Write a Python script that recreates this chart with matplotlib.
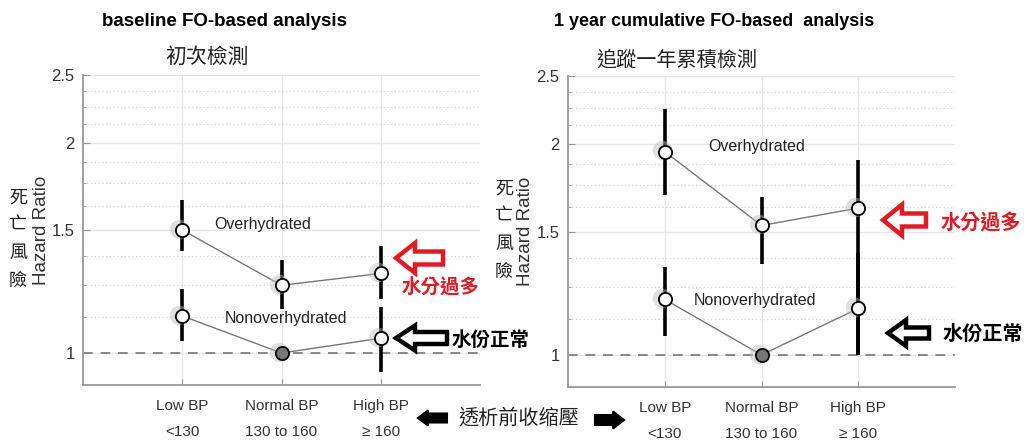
import numpy as np
import matplotlib
matplotlib.use("Agg")
import matplotlib.pyplot as plt
from matplotlib.patches import FancyArrow
from matplotlib.ticker import FixedLocator, NullFormatter

plt.rcParams['font.family'] = ['Liberation Sans', 'Noto Sans CJK TC', 'DejaVu Sans']
CJK = ['Noto Sans CJK TC', 'DejaVu Sans']

# categories (x ticks)
bp_labels = ["Low BP\n<130", "Normal BP\n130 to 160", "High BP\n\u2265 160"]
bp_pos = [1, 2, 3]

# baseline FO-based analysis
base_over = [1.50, 1.25, 1.30]
base_over_lo = [1.40, 1.155, 1.195]
base_over_hi = [1.655, 1.36, 1.425]
base_non = [1.13, 1.00, 1.05]
base_non_lo = [1.04, 1.00, 0.94]
base_non_hi = [1.235, 1.00, 1.165]

# 1 year cumulative FO-based analysis
cum_over = [1.95, 1.53, 1.62]
cum_over_lo = [1.69, 1.35, 1.00]
cum_over_hi = [2.24, 1.68, 1.90]
cum_non = [1.20, 1.00, 1.165]
cum_non_lo = [1.065, 1.00, 1.00]
cum_non_hi = [1.335, 1.00, 1.40]

yticks = [1, 1.5, 2, 2.5]
ytick_labels = ["1", "1.5", "2", "2.5"]
minor_ticks = [1.125, 1.25, 1.375, 1.625, 1.75, 1.875, 2.125, 2.25, 2.375]

fig = plt.figure(figsize=(10.32, 4.47), dpi=100)
ax1 = fig.add_axes([83 / 1032, 1 - 385 / 447, 397 / 1032, 310 / 447])
ax2 = fig.add_axes([568 / 1032, 1 - 387 / 447, 387 / 1032, 311 / 447])


def draw_series(ax, hr, lo, hi, ref_idx=None):
    hr = np.array(hr)
    err = [hr - np.array(lo), np.array(hi) - hr]
    ax.plot(bp_pos, hr, color='#777777', lw=1.0, zorder=3)
    ax.errorbar(bp_pos, hr, yerr=err, fmt='none', ecolor='black', elinewidth=2.6, capsize=0, zorder=4)
    # soft halo behind the markers
    ax.plot(np.array(bp_pos) - 0.03, hr * 1.004, 'o', ms=14, color='#bbbbbb', alpha=0.45, mec='none', zorder=4.5)
    for i, (x, y) in enumerate(zip(bp_pos, hr)):
        fc = '#777777' if i == ref_idx else 'white'
        ax.plot(x, y, 'o', ms=9.5, mfc=fc, mec='black', mew=1.3, zorder=5)


def style_axes(ax):
    ax.set_yscale('log')
    ax.set_ylim(0.9, 2.5)
    ax.set_xlim(0, 4)
    ax.yaxis.set_major_locator(FixedLocator(yticks))
    ax.set_yticklabels(ytick_labels)
    ax.yaxis.set_minor_locator(FixedLocator(minor_ticks))
    ax.yaxis.set_minor_formatter(NullFormatter())
    ax.set_xticks(bp_pos)
    ax.set_xticklabels(bp_labels, linespacing=2.1)
    ax.tick_params(axis='both', which='both', direction='in', colors='#999999',
                   labelcolor='#333333')
    ax.tick_params(axis='y', which='major', length=5, pad=6, labelsize=12)
    ax.tick_params(axis='y', which='minor', length=2)
    ax.tick_params(axis='x', length=4, pad=10, labelsize=11)
    ax.grid(True, which='major', axis='y', color='#e6e6e6', lw=0.9)
    ax.grid(True, which='minor', axis='y', color='#d4d4d4', lw=0.9, ls=(0, (1, 2)))
    ax.grid(True, which='major', axis='x', color='#e6e6e6', lw=0.9)
    ax.axhline(1.0, color='#888888', lw=1.4, ls=(0, (5, 4)), zorder=2)
    for s in ['top', 'right']:
        ax.spines[s].set_visible(False)
    for s in ['left', 'bottom']:
        ax.spines[s].set_color('#999999')
        ax.spines[s].set_linewidth(1.3)


style_axes(ax1)
style_axes(ax2)
draw_series(ax1, base_over, base_over_lo, base_over_hi)
draw_series(ax1, base_non, base_non_lo, base_non_hi, ref_idx=1)
draw_series(ax2, cum_over, cum_over_lo, cum_over_hi)
draw_series(ax2, cum_non, cum_non_lo, cum_non_hi, ref_idx=1)

# overlay in pixel coordinates for the annotations
ov = fig.add_axes([0, 0, 1, 1], zorder=10)
ov.set_xlim(0, 1032)
ov.set_ylim(447, 0)
ov.axis('off')
ov.patch.set_alpha(0)

ov.text(225, 22, "baseline FO-based analysis", fontsize=13.5, fontweight='bold', ha='center', va='center')
ov.text(207, 57, "初次檢測", fontsize=15, ha='center', va='center', family=CJK, color='#222222')
ov.text(714, 22, "1 year cumulative FO-based  analysis", fontsize=13, fontweight='bold', ha='center', va='center')
ov.text(677, 60, "追蹤一年累積檢測", fontsize=14.5, ha='center', va='center', family=CJK, color='#222222')

# y labels
ov.text(41, 230, "Hazard Ratio", fontsize=13.5, rotation=90, ha='center', va='center', color='#333333')
ov.text(18, 239, "死\n亡\n風\n險", fontsize=13, ha='center', va='center', family=CJK, linespacing=1.7, color='#222222')
ov.text(525, 231, "Hazard Ratio", fontsize=13.5, rotation=90, ha='center', va='center', color='#333333')
ov.text(504, 230, "死\n亡\n風\n險", fontsize=13, ha='center', va='center', family=CJK, linespacing=1.7, color='#222222')

# series labels
ov.text(263, 225, "Overhydrated", fontsize=11.5, ha='center', va='center', color='#222222')
ov.text(286, 318, "Nonoverhydrated", fontsize=11.5, ha='center', va='center', color='#222222')
ov.text(757, 146, "Overhydrated", fontsize=11.5, ha='center', va='center', color='#222222')
ov.text(755, 300, "Nonoverhydrated", fontsize=11.5, ha='center', va='center', color='#222222')


def hollow_arrow(x_tail, x_tip, y, color, body=13, head=30, head_len=19):
    ov.add_patch(FancyArrow(x_tail, y, x_tip - x_tail, 0, width=body, head_width=head,
                            head_length=head_len, length_includes_head=True,
                            fc='white', ec=color, lw=3.2, zorder=11))


hollow_arrow(443, 396, 258, '#e01b24')
ov.text(441, 288, "水分過多", fontsize=14, ha='center', va='center', family=CJK, color='#e01b24', fontweight='bold')
hollow_arrow(447, 396, 338, 'black', body=12, head=25, head_len=19)
ov.text(491, 340, "水份正常", fontsize=14, ha='center', va='center', family=CJK, color='black', fontweight='bold')

hollow_arrow(926, 883, 220, '#e01b24', body=13, head=31, head_len=19)
ov.text(981, 223, "水分過多", fontsize=14.5, ha='center', va='center', family=CJK, color='#e01b24', fontweight='bold')
hollow_arrow(929, 888, 333, 'black', body=11, head=26, head_len=18)
ov.text(983, 333, "水份正常", fontsize=14.5, ha='center', va='center', family=CJK, color='black', fontweight='bold')

# bottom label with filled arrows
ov.add_patch(FancyArrow(447, 418, -29, 0, width=9, head_width=15, head_length=10,
                        length_includes_head=True, fc='black', ec='black', lw=1.5, zorder=11))
ov.add_patch(FancyArrow(595, 420, 29, 0, width=10, head_width=17, head_length=11,
                        length_includes_head=True, fc='black', ec='black', lw=1.5, zorder=11))
ov.text(519, 418, "透析前收缩壓", fontsize=14.5, ha='center', va='center', family=CJK, color='#222222')

fig.savefig("out.png", dpi=100, facecolor='white')
